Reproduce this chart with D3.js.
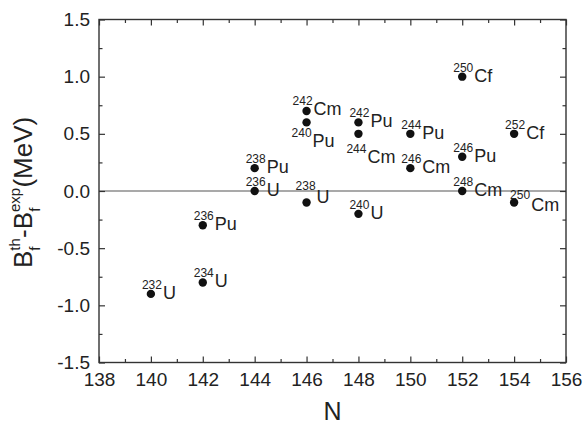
<!DOCTYPE html>
<html><head><meta charset="utf-8">
<script src="https://cdn.jsdelivr.net/npm/d3@7"></script>
<style>body{margin:0;background:#fff}svg{display:block}text{font-family:Arial,"Liberation Sans",sans-serif;fill:#222}</style>
</head><body><svg id="c" width="584" height="428"></svg>
<script>
// neutron number N
const neutronN = [140,142,144,146,148, 142,144,146,148,150,152, 146,148,150,152,154, 152,154];
// B_f^th - B_f^exp (MeV)
const deltaB   = [-0.9,-0.8,0.0,-0.1,-0.2, -0.3,0.2,0.6,0.6,0.5,0.3, 0.7,0.5,0.2,0.0,-0.1, 1.0,0.5];
const massNum  = [232,234,236,238,240, 236,238,240,242,244,246, 242,244,246,248,250, 250,252];
const element  = ["U","U","U","U","U", "Pu","Pu","Pu","Pu","Pu","Pu", "Cm","Cm","Cm","Cm","Cm", "Cf","Cf"];
const xTicks = [138,140,142,144,146,148,150,152,154,156];
const yTicks = [-1.5,-1.0,-0.5,0.0,0.5,1.0,1.5];

const svg = d3.select("#c");
const L=99, R=566, T=19.5, B=362.5;
const x = d3.scaleLinear().domain([138,156]).range([L,R]);
const y = d3.scaleLinear().domain([-1.5,1.5]).range([B,T]);
const ink="#333";

// zero line
svg.append("line").attr("x1",L).attr("x2",R).attr("y1",y(0)).attr("y2",y(0))
  .attr("stroke","#555").attr("stroke-width",1.2);

const minorX = d3.range(139,156,2), minorY = d3.range(-1.25,1.5,0.5);
const fmtY = d => d3.format(".1f")(d).replace("\u2212","-");
const ax = (gen, tr) => svg.append("g").attr("transform",tr).call(gen)
  .call(g=>g.select(".domain").remove()).call(g=>g.selectAll("line").attr("stroke",ink).attr("stroke-width",1.2));
ax(d3.axisBottom(x).tickValues(xTicks).tickSize(-6).tickPadding(10).tickFormat(d3.format("d")),`translate(0,${B})`)
  .selectAll("text").attr("font-size",19).attr("fill","#222");
ax(d3.axisBottom(x).tickValues(minorX).tickSize(-3.5).tickFormat(""),`translate(0,${B})`);
ax(d3.axisTop(x).tickValues(xTicks).tickSize(-6).tickFormat(""),`translate(0,${T})`);
ax(d3.axisTop(x).tickValues(minorX).tickSize(-3.5).tickFormat(""),`translate(0,${T})`);
ax(d3.axisLeft(y).tickValues(yTicks).tickSize(-6).tickPadding(9).tickFormat(fmtY),`translate(${L},0)`)
  .selectAll("text").attr("font-size",19).attr("fill","#222");
ax(d3.axisLeft(y).tickValues(minorY).tickSize(-3.5).tickFormat(""),`translate(${L},0)`);
ax(d3.axisRight(y).tickValues(yTicks).tickSize(-6).tickFormat(""),`translate(${R},0)`);
ax(d3.axisRight(y).tickValues(minorY).tickSize(-3.5).tickFormat(""),`translate(${R},0)`);

// frame
svg.append("rect").attr("x",L).attr("y",T).attr("width",R-L).attr("height",B-T)
  .attr("fill","none").attr("stroke",ink).attr("stroke-width",1.4);

// points
const pts = neutronN.map((n,i)=>({n, v:deltaB[i], a:massNum[i], el:element[i]}));
svg.append("g").selectAll("circle").data(pts).join("circle")
  .attr("cx",d=>x(d.n)).attr("cy",d=>y(d.v)).attr("r",4.2).attr("fill","#111");

// label placement tweaks: [dx, dy of element baseline, superscript raise]
const place = {"240Pu":[-15,25,10],"242Cm":[-14,4,10],"244Cm":[-12,29,10],"238U":[-11,1,13],"250Cm":[-4,9,12]};
const P = d => place[d.a+d.el] || [-9,5,10];
const lab = svg.append("g").selectAll("text").data(pts).join("text")
  .attr("x",d=>x(d.n)+P(d)[0]).attr("y",d=>y(d.v)+P(d)[1]);
lab.append("tspan").attr("font-size",12).attr("dy",d=>-P(d)[2]).text(d=>d.a);
lab.append("tspan").attr("font-size",18).attr("dy",d=>P(d)[2]).attr("dx",1).text(d=>d.el);

// axis titles
svg.append("text").attr("x",(L+R)/2).attr("y",420).attr("text-anchor","middle").attr("font-size",25).text("N");
const yt = svg.append("text").attr("transform","translate(32,268) rotate(-90)").attr("font-size",26);
yt.append("tspan").text("B");
yt.append("tspan").attr("font-size",15).attr("dy",-12).text("th");
yt.append("tspan").attr("font-size",15).attr("dx",-12.5).attr("dy",20).text("f");
yt.append("tspan").attr("dx",8.5).attr("dy",-8).text("-B");
yt.append("tspan").attr("font-size",15).attr("dy",-12).text("exp");
yt.append("tspan").attr("font-size",15).attr("dx",-24).attr("dy",20).text("f");
yt.append("tspan").attr("dx",20).attr("dy",-8).text("(MeV)");
</script></body></html>
